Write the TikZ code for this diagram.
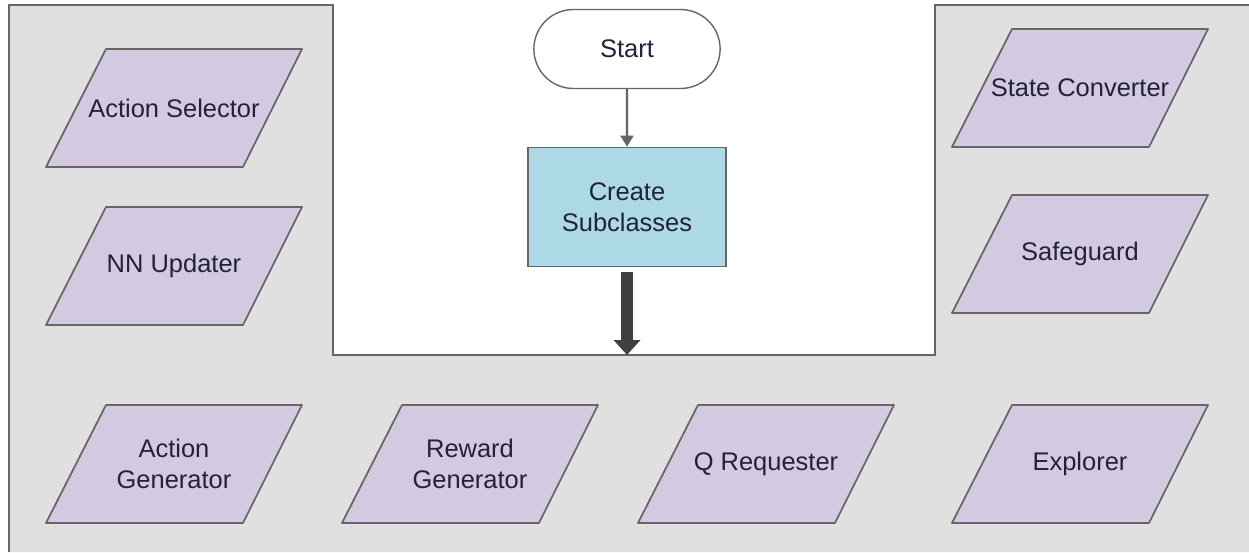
\documentclass[tikz,border=0pt]{standalone}
\usepackage{fontspec}
\setmainfont{Liberation Sans}
\usetikzlibrary{shapes.misc, arrows.meta}
\definecolor{panelgrey}{HTML}{E0E0E0}
\definecolor{edgegrey}{HTML}{666666}
\definecolor{classfill}{HTML}{D3CAE2}
\definecolor{boxblue}{HTML}{ADD8E6}
\definecolor{inkdark}{HTML}{22223A}
\definecolor{arrowdark}{HTML}{404040}
\tikzset{
  subclass/.style={draw=edgegrey, line width=1pt, fill=classfill,
    line join=round},
  subtext/.style={text=inkdark, align=center, inner sep=0pt,
    font=\fontsize{14.5}{17.5}\selectfont},
  terminal/.style={
    rounded rectangle, draw=edgegrey, line width=0.8pt, fill=white,
    text=inkdark, minimum width=3.96cm, minimum height=1.58cm,
    font=\fontsize{14.5}{17.5}\selectfont
  },
  process/.style={
    rectangle, draw=edgegrey, line width=1pt, fill=boxblue,
    text=inkdark, align=center, minimum width=3.96cm, minimum height=2.38cm,
    font=\fontsize{14.5}{17.5}\selectfont
  },
  flow/.style={draw=edgegrey, line width=1.2pt,
    -{Triangle[width=0.26cm, length=0.22cm]}},
  bigarrow/.style={draw=arrowdark, line width=0.24cm, shorten <=0.1cm,
    -{Triangle[width=0.52cm, length=0.3cm]}}
}

\begin{document}
\begin{tikzpicture}[x=0.02cm, y=-0.02cm]
  \useasboundingbox (0,0) rectangle (1249,552);

  % ── Grey panel with the notch at the top ─────────────────────────
  \fill[panelgrey] (9,5) -- (333,5) -- (333,355) -- (935,355) -- (935,5)
    -- (1249,5) -- (1249,552) -- (9,552) -- cycle;
  \draw[edgegrey, line width=1.1pt]
    (9,552) -- (9,5) -- (333,5) -- (333,355) -- (935,355) -- (935,5) -- (1249,5);

  % ── Flow in the notch ────────────────────────────────────────────
  \node[terminal] (start) at (627,49) {Start};
  \node[process]  (create) at (627,207) {Create\\Subclasses};
  \coordinate (notch) at (627,355);

  \draw[flow]     (start) -- (create);
  \draw[bigarrow] (create) -- (notch);

  % ── Subclasses (parallelograms) ──────────────────────────────────
  \foreach \nm/\px/\py/\lbl in {
      actsel/174/108/{Action Selector},
      nnupd/174/266/{NN Updater},
      actgen/174/464/{Action\\Generator},
      rewgen/470/464/{Reward\\Generator},
      qreq/766/464/{Q Requester},
      explorer/1080/464/{Explorer},
      stateconv/1080/88/{State Converter},
      safeguard/1080/254/{Safeguard}}
    { \filldraw[subclass] (\px-68,\py-59) -- (\px+128,\py-59)
        -- (\px+69,\py+59) -- (\px-128,\py+59) -- cycle;
      \node[subtext] (\nm) at (\px,\py) {\lbl}; }
\end{tikzpicture}
\end{document}
